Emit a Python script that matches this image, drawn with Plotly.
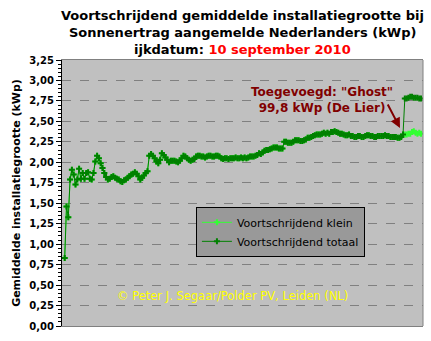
import plotly.graph_objects as go

# Running average installation size (kWp), one value per update
totaal = [
    0.83, 1.46, 1.33, 1.79, 1.91, 1.85, 1.73, 1.79, 1.92, 1.80,
    1.87, 1.80, 1.87, 1.88, 1.80, 1.79, 1.87, 2.01, 2.08, 2.05,
    1.99, 1.93, 1.87, 1.82,
    1.79, 1.80, 1.82, 1.83, 1.81, 1.80, 1.79, 1.77, 1.76, 1.78,
    1.79, 1.81, 1.83, 1.85, 1.86, 1.88, 1.86, 1.83, 1.79, 1.81,
    1.84, 1.87, 1.89,
    2.08, 2.10, 2.08, 2.05, 2.01, 1.99, 2.03, 2.11, 2.09, 2.06,
    2.03, 2.00, 2.02, 2.02, 2.02, 2.01, 2.00, 2.02, 2.05, 2.08,
    2.07, 2.05, 2.03, 2.02, 2.03, 2.04, 2.07, 2.08, 2.08, 2.07,
    2.07, 2.06, 2.07, 2.08, 2.08, 2.07, 2.07, 2.08, 2.08, 2.07,
    2.05, 2.04, 2.05, 2.05, 2.04, 2.05, 2.05, 2.05,
    2.06, 2.05, 2.05, 2.06, 2.05, 2.06, 2.05, 2.06, 2.07, 2.07,
    2.07, 2.08, 2.09, 2.11, 2.10, 2.12, 2.14, 2.15, 2.15, 2.16,
    2.17, 2.18, 2.18, 2.18, 2.17, 2.17, 2.17,
    2.25, 2.25, 2.24, 2.24, 2.24, 2.25, 2.27, 2.27, 2.27, 2.26,
    2.26, 2.27, 2.28, 2.30, 2.30, 2.31, 2.32, 2.33, 2.34, 2.34,
    2.34, 2.35, 2.36, 2.35, 2.36, 2.35,
    2.37, 2.37, 2.38, 2.37, 2.36, 2.35, 2.35, 2.34, 2.33, 2.33,
    2.34, 2.32, 2.32, 2.31, 2.31, 2.32, 2.32, 2.31, 2.31, 2.32,
    2.33, 2.33, 2.32, 2.32, 2.31, 2.31, 2.32, 2.32, 2.32, 2.32,
    2.33, 2.32, 2.32, 2.31, 2.31, 2.31, 2.31, 2.30, 2.30, 2.31,
    2.34,
    2.78, 2.78, 2.79, 2.80, 2.80, 2.79, 2.79, 2.79, 2.78, 2.78,
]
klein_tail = [2.34, 2.34, 2.35, 2.35, 2.37, 2.38, 2.36, 2.35, 2.36, 2.35]
klein = totaal[:len(totaal) - len(klein_tail)] + klein_tail
x = list(range(len(totaal)))

yticks = [i * 0.25 for i in range(14)]
title_lines = [
    "<b>Voortschrijdend gemiddelde installatiegrootte bij</b>",
    "<b>Sonnenertrag aangemelde Nederlanders (kWp)</b>",
    "<b>ijkdatum: <span style='color:#ff0000'>10 september 2010</span></b>",
]

fig = go.Figure()
fig.add_trace(go.Scatter(
    x=x, y=klein, mode="lines+markers", name="Voortschrijdend klein",
    line=dict(color="#33ff33", width=1),
    marker=dict(symbol="cross", size=5, color="#33ff33"),
))
fig.add_trace(go.Scatter(
    x=x, y=totaal, mode="lines+markers", name="Voortschrijdend totaal",
    line=dict(color="#008000", width=1),
    marker=dict(symbol="cross", size=5, color="#008000"),
))

fig.update_layout(
    width=431, height=341,
    margin=dict(l=62, r=8, t=60, b=15),
    paper_bgcolor="white", plot_bgcolor="#c0c0c0",
    separators=",.",
    font=dict(family="DejaVu Sans", color="black"),
    showlegend=True,
    legend=dict(
        x=0.371, y=0.448, xanchor="left", yanchor="top",
        bgcolor="#999999", bordercolor="black", borderwidth=1,
        font=dict(family="DejaVu Sans", size=11, color="black"),
        tracegroupgap=0, itemwidth=30,
    ),
)

fig.update_xaxes(
    range=[-1.5, len(totaal) + 0.1],
    showticklabels=False, ticks="", showgrid=False, zeroline=False,
    showline=True, linecolor="#808080", linewidth=1, mirror=True,
)
fig.update_yaxes(
    range=[0, 3.25], tickvals=yticks, tickformat=".2f",
    showgrid=True, gridcolor="#808080", griddash="dash", gridwidth=1,
    zeroline=False,
    showline=True, linecolor="black", linewidth=1,
    ticks="outside", ticklen=5, tickcolor="black",
    minor=dict(dtick=0.05, ticks="outside", ticklen=3, tickcolor="black", showgrid=False),
    tickfont=dict(family="DejaVu Sans", size=10, color="black", weight="bold"),
    title=dict(text="<b>Gemiddelde installatiegrootte (kWp)</b>",
               font=dict(family="DejaVu Sans", size=11, color="black"), standoff=6),
)

# right border of plot area
fig.add_shape(type="line", xref="paper", yref="paper", x0=1, x1=1, y0=0, y1=1,
              line=dict(color="#808080", width=1))

for line, yp in zip(title_lines, [1.166, 1.102, 1.038]):
    fig.add_annotation(
        text=line, xref="paper", yref="paper", x=0.5, y=yp,
        xanchor="center", yanchor="middle", showarrow=False,
        font=dict(family="DejaVu Sans", size=13, color="black"),
    )

fig.add_annotation(
    text="<b>Toegevoegd: \"Ghost\"<br>99,8 kWp (De Lier)</b>",
    xref="paper", yref="paper", x=0.72, y=0.85, xanchor="center", yanchor="middle",
    showarrow=False, font=dict(family="DejaVu Sans", size=12, color="#800000"),
)
fig.add_annotation(
    text="", x=186.3, y=2.42, xref="x", yref="y",
    showarrow=True, arrowhead=2, arrowsize=1, arrowwidth=2, arrowcolor="#800000",
    ax=-13, ay=-25,
)
fig.add_annotation(
    text="© Peter J. Segaar/Polder PV, Leiden (NL)",
    xref="paper", yref="paper", x=0.471, y=0.113, xanchor="center", yanchor="middle",
    showarrow=False, font=dict(family="DejaVu Sans", size=11.5, color="#ffff00"),
)

fig.write_html("out.html")
